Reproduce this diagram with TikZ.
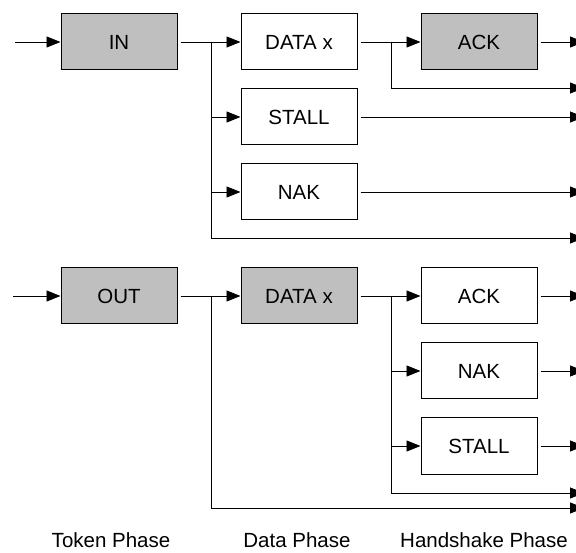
\documentclass[tikz,border=0pt]{standalone}
\usepackage{fontspec}
\setmainfont{Liberation Sans}
\usetikzlibrary{arrows.meta}

\begin{document}
\begin{tikzpicture}[x=1pt,y=-1pt,
  every node/.style={rectangle,draw,line width=1pt,minimum width=116pt,minimum height=56pt,
    inner sep=0pt,font=\fontsize{20.5}{24}\selectfont},
  tone/.style={fill=black!25},
  lbl/.style={draw=none,minimum width=0pt,minimum height=0pt},
  wire/.style={line width=0.8pt},
  arr/.style={wire,-{Triangle[length=14pt,width=11pt]}}]
  \useasboundingbox (0,0) rectangle (576,553);

  \node (a) [tone] at (119,42) {IN};
  \node (b1) at (299,42) {DATA x};
  \node (b2) at (299,117) {STALL};
  \node (b3) at (299,192) {NAK};
  \node (c1) [tone] at (479,42) {ACK};

  \node (d) [tone] at (119,296) {OUT};
  \node (e) [tone] at (299,296) {DATA x};
  \node (f1) at (479,296) {ACK};
  \node (f2) at (479,371) {NAK};
  \node (f3) at (479,446) {STALL};

  \node (t1) [lbl] at (111,540) {Token Phase};
  \node (t2) [lbl] at (297,540) {Data Phase};
  \node (t3) [lbl] at (484,540) {Handshake Phase};

  \coordinate (ia) at (15,42);
  \coordinate (ja) at (211,42);
  \coordinate (jb) at (391,42);
  \coordinate (oa) at (584,42);
  \coordinate (ob) at (584,88);
  \coordinate (oc) at (584,117);
  \coordinate (od) at (584,192);
  \coordinate (oe) at (584,238);

  \coordinate (id) at (13,296);
  \coordinate (jd) at (211,296);
  \coordinate (je) at (391,296);
  \coordinate (of) at (584,296);
  \coordinate (og) at (584,371);
  \coordinate (oh) at (584,446);
  \coordinate (oi) at (584,493);
  \coordinate (oj) at (584,508);

  \draw[arr] (ia) -- (a);
  \draw[arr,shorten <=3pt] (a) -- (b1);
  \draw[arr] (ja) |- (b2);
  \draw[arr] (ja) |- (b3);
  \draw[arr] (ja) |- (oe);
  \draw[arr,shorten <=3pt] (b1) -- (c1);
  \draw[arr] (jb) |- (ob);
  \draw[arr,shorten <=3pt] (c1) -- (oa);
  \draw[arr,shorten <=3pt] (b2) -- (oc);
  \draw[arr,shorten <=3pt] (b3) -- (od);

  \draw[arr] (id) -- (d);
  \draw[arr,shorten <=3pt] (d) -- (e);
  \draw[arr] (jd) |- (oj);
  \draw[arr,shorten <=3pt] (e) -- (f1);
  \draw[arr] (je) |- (f2);
  \draw[arr] (je) |- (f3);
  \draw[arr] (je) |- (oi);
  \draw[arr,shorten <=3pt] (f1) -- (of);
  \draw[arr,shorten <=3pt] (f2) -- (og);
  \draw[arr,shorten <=3pt] (f3) -- (oh);
\end{tikzpicture}
\end{document}
